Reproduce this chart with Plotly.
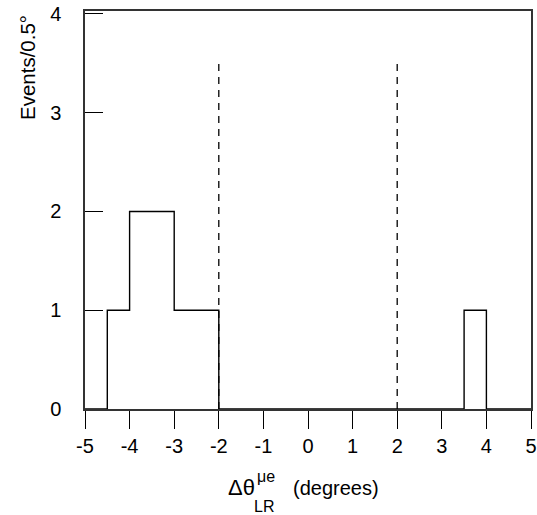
import plotly.graph_objects as go

# Data
bin_edges = [-5.0, -4.5, -4.0, -3.5, -3.0, -2.5, -2.0, -1.5, -1.0, -0.5, 0.0,
             0.5, 1.0, 1.5, 2.0, 2.5, 3.0, 3.5, 4.0, 4.5, 5.0]
counts = [0, 1, 2, 2, 1, 1, 0, 0, 0, 0, 0, 0, 0, 0, 0, 0, 0, 1, 0, 0]
cut_positions = [-2, 2]
cut_height = 3.5
x_ticks = [-5, -4, -3, -2, -1, 0, 1, 2, 3, 4, 5]
x_tick_labels = ["-5", "-4", "-3", "-2", "-1", "0", "1", "2", "3", "4", "5"]
y_ticks = [0, 1, 2, 3, 4]
y_tick_labels = ["0", "1", "2", "3", "4"]

FONT = "Liberation Sans, Arial, Helvetica, sans-serif"

fig = go.Figure()

# histogram outline (step)
fig.add_trace(go.Scatter(
    x=bin_edges, y=counts + [counts[-1]],
    mode="lines", line=dict(shape="hv", color="black", width=1.4),
    showlegend=False, hoverinfo="skip"))

# dashed cut lines
for c in cut_positions:
    fig.add_trace(go.Scatter(
        x=[c, c], y=[0, cut_height], mode="lines",
        line=dict(color="black", width=1.3, dash="7px,6px"),
        showlegend=False, hoverinfo="skip"))

W, H = 537, 515
L, R, T, B = 85, 6, 11, 106
pw = W - L - R
ph = H - T - B

def px(xp):
    return (xp - L) / pw

def py(yp):
    return (H - B - yp) / ph

def label(text, x, y, size, angle=0, anchor="left"):
    return dict(text=text, textangle=angle, xref="paper", yref="paper",
                x=px(x), y=py(y), xanchor=anchor, yanchor="middle",
                showarrow=False, borderpad=0, font=dict(size=size))

fig.update_layout(
    width=W, height=H,
    margin=dict(l=L, r=R, t=T, b=B, autoexpand=False),
    paper_bgcolor="white", plot_bgcolor="white",
    font=dict(family=FONT, size=20, color="black"),
    xaxis=dict(range=[-5, 5], tickvals=x_ticks, ticktext=x_tick_labels,
               ticks="outside", ticklen=18, automargin=False,
               ticklabeloverflow="allow",
               tickwidth=1.3, tickcolor="black", showline=True, linecolor="#333",
               linewidth=1.5, mirror=True, showgrid=False, zeroline=False,
               tickfont=dict(size=20)),
    yaxis=dict(range=[0, 4.03], tickvals=y_ticks, ticktext=y_tick_labels,
               ticks="inside", ticklen=18, automargin=False, ticklabelstandoff=18,
               ticklabeloverflow="allow",
               tickwidth=1.3, tickcolor="black", showline=True, linecolor="#333",
               linewidth=1.5, mirror=True, showgrid=False, zeroline=False,
               tickfont=dict(size=20)),
    annotations=[
        label("Events/0.5°", 27, 68, 20.5, angle=-90, anchor="center"),
        label("Δθ", 227, 487, 22),
        label("μe", 256, 476, 16),
        label("LR", 253, 506, 16),
        label("(degrees)", 292, 488, 20),
    ],
)

fig.write_html("out.html",
               config={"displayModeBar": False},
               post_script="document.body.style.margin='0px';"
                           "document.body.style.overflow='hidden';")
